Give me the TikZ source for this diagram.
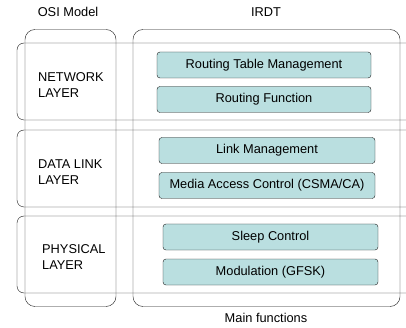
\documentclass[tikz,border=0pt]{standalone}
\usepackage{fontspec}
\setmainfont{Liberation Sans}
\usepackage{tikz}
\usetikzlibrary{
  positioning,  % Function "of" (e.g. [right=of x])
  backgrounds,  % Predefined layer named "background"
}
\definecolor{funcfill}{HTML}{BADFE0}
\definecolor{lineclr}{HTML}{1A1A1A}
\def\myfuncw{214pt}
\def\myfunch{26pt}
\tikzset{
  font=\fontsize{12.8}{15.5}\selectfont,
  line width=1pt,
  my column/.style={
    draw=lineclr,
    rectangle,
    rounded corners=10pt,
    minimum height=277pt
  },
  my layer/.style={
    draw=lineclr,
    rectangle,
    rounded corners=7pt,
    minimum width=403pt,
    minimum height=77pt
  },
  my func/.style={
    draw=lineclr,
    fill=funcfill,
    rectangle,
    rounded corners=3pt,
    minimum width=\myfuncw,
    minimum height=\myfunch,
    inner sep=0pt
  },
  my label/.style={
    align=left,
    anchor=west,
    inner sep=0pt
  }
}

\begin{document}
\begin{tikzpicture}[x=1pt,y=-1pt]
\useasboundingbox (0,0) rectangle (406,328);
\clip (0,0) rectangle (406,328);
% columns
\node[my column,minimum width=91pt]  (osi)  at (70.5,168) {};
\node[my column,minimum width=267pt] (irdt) at (266.5,168) {};
\node (osititle)  at (68,12)  {OSI Model};
\node (irdttitle) at (266,12) {IRDT};
\node (maintitle) at (266,318) {Main functions};
% layers
\node[my layer] (net)  at (218.5,81.5)  {};
\node[my layer] (link) at (218.5,168.5) {};
\node[my layer] (phy)  at (218.5,254.5) {};
\node[my label] (netlbl)  at (38,85)  {NETWORK\\LAYER};
\node[my label] (linklbl) at (38,172) {DATA LINK\\LAYER};
\node[my label] (phylbl)  at (42,257) {PHYSICAL\\LAYER};
% functions
\node[my func] (rtm)   at (264,65)    {Routing Table Management};
\node[my func] (rf)    at (264,99.5)  {Routing Function};
\node[my func,minimum width=216pt] (lm)  at (267,150.5) {Link Management};
\node[my func,minimum width=216pt] (mac) at (267,185.5) {Media Access Control (CSMA/CA)};
\node[my func,minimum width=215pt] (sc)  at (270.5,237) {Sleep Control};
\node[my func,minimum width=215pt] (mod) at (270.5,272) {Modulation (GFSK)};
\end{tikzpicture}
\end{document}
